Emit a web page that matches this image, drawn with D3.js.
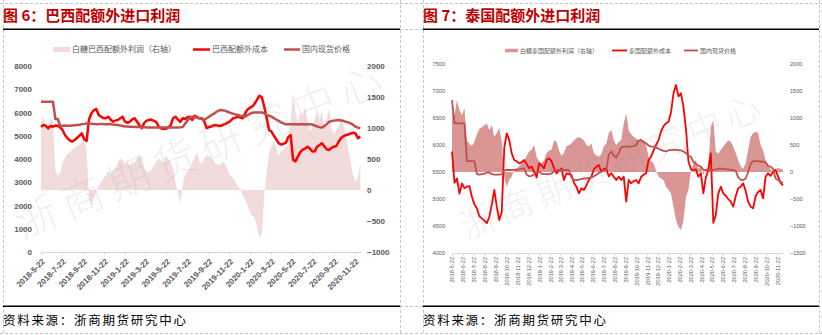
<!DOCTYPE html>
<html>
<head>
<meta charset="utf-8">
<script src="https://cdn.jsdelivr.net/npm/d3@7"></script>
<style>
  html, body { margin: 0; padding: 0; background: #fff; }
  svg { display: block; font-family: "Liberation Sans", Arial, sans-serif; }
</style>
</head>
<body>
<svg id="chart" width="822" height="335"></svg>
<script>
// ---- data: weekly observations starting 2018-05-22 ----
const startDate = new Date(2018, 4, 22);
const weekCount = 134;

// Figure 6: Brazil out-of-quota import (profit on right axis, prices on left axis)
const brazilProfit = [
  1100,1180,1000,1050,1150,1100,300,230,280,450,
  520,580,610,650,680,700,740,760,800,650,
  -150,-240,-130,-30,80,130,190,230,290,250,
  300,360,420,515,480,420,440,400,450,430,
  515,560,540,360,300,290,330,400,460,515,
  480,450,560,500,450,350,120,-50,-210,80,
  240,300,355,450,520,610,450,420,500,560,
  540,515,450,420,400,430,450,410,290,230,
  190,130,60,30,-80,-160,-240,-350,-420,-450,
  -610,-775,-700,-80,290,610,700,770,680,560,
  620,650,700,720,1100,1580,1250,1080,1240,1200,
  1340,1100,960,1000,1150,1240,1100,1290,1000,1150,
  1320,1000,900,960,1000,1180,1050,890,640,450,
  240,130,210,430
];
const brazilCost = [
  5390,5460,5430,5320,5420,5390,5440,5430,5350,5250,
  5030,4900,4800,4750,4820,4900,5000,5100,4850,4780,
  5700,5965,6100,6150,5900,5820,5760,5750,5820,5700,
  5605,5650,5680,5750,5820,5605,5560,5600,5700,5750,
  5600,5450,5330,5550,5650,5680,5700,5640,5600,5400,
  5320,5290,5300,5350,5450,5750,5820,5700,5600,5750,
  5720,5800,5820,5680,5860,5800,5750,5750,5620,5330,
  5380,5400,5450,5460,5420,5430,5480,5520,5575,5650,
  5750,5780,5820,5780,5750,5950,6130,6200,6260,6380,
  6550,6720,6650,6250,5750,5250,5180,5000,4850,4680,
  4620,4650,4700,4950,5030,3960,3900,4100,4300,4400,
  4450,4530,4450,4320,4330,4530,4600,4680,4550,4420,
  4390,4480,4530,4560,4750,4900,4980,5030,5050,5100,
  5130,5100,4900,4960
];
const spotPriceA = [
  6460,6460,6460,6460,6460,6460,5720,5720,5430,5430,
  5440,5430,5430,5440,5450,5460,5470,5500,5510,5530,
  5530,5520,5510,5500,5500,5510,5500,5490,5500,5500,
  5480,5470,5460,5440,5420,5400,5400,5390,5390,5380,
  5390,5380,5380,5370,5360,5360,5350,5350,5360,5350,
  5350,5350,5350,5350,5360,5350,5350,5350,5360,5380,
  5520,5650,5780,5820,5800,5770,5750,5720,5690,5750,
  5820,5890,5950,6020,6080,6107,6090,6065,6020,5980,
  5950,5920,5890,5860,5840,5820,5880,5940,5990,6000,
  6005,6005,6005,5960,5900,5860,5820,5760,5700,5640,
  5575,5530,5490,5490,5500,5490,5490,5480,5490,5490,
  5480,5490,5490,5480,5440,5400,5370,5350,5420,5500,
  5600,5630,5650,5670,5680,5660,5640,5600,5575,5530,
  5470,5390,5350,5320
];

// Figure 7: Thailand out-of-quota import
const thaiProfit = [
  1333,1050,1330,1150,1050,1180,590,520,480,560,
  700,800,830,870,900,780,870,650,720,815,
  560,-100,-272,-150,-85,40,70,100,160,190,
  300,380,410,500,280,200,160,220,350,400,
  410,590,560,400,300,350,470,500,530,590,
  620,650,620,590,500,470,530,350,300,280,
  330,470,530,720,780,590,500,560,590,900,
  1090,780,700,650,620,590,620,560,500,280,
  200,160,30,-90,-120,-150,-280,-330,-400,-650,
  -890,-1020,-1080,-900,-460,-340,0,160,220,60,
  100,-60,40,100,840,960,380,340,410,470,
  530,590,560,470,350,220,100,60,160,410,
  650,720,746,720,500,400,220,130,40,0,
  50,75,60,40
];
const thaiCost = [
  5880,5300,5380,5100,5290,5200,5230,5240,5043,4900,
  4830,4680,4640,4600,4550,4672,4900,5167,4857,4610,
  4765,5950,6216,6090,5845,5722,5700,5660,5680,5722,
  5650,5568,5600,5500,5400,5660,5620,5568,5722,5753,
  5700,5568,5476,5530,5568,5352,5476,5460,5445,5300,
  5228,5105,5198,5167,5250,5352,5413,5550,5598,5630,
  5506,5560,5560,5420,5476,5413,5352,5413,5352,5413,
  4950,5352,5290,5330,5352,5290,5413,5450,5476,5722,
  5784,5900,6000,6092,6250,6350,6401,6432,6600,6957,
  7111,6900,6957,6710,6300,5700,5550,5537,5550,5413,
  5476,5105,5400,5537,5845,4560,4700,5100,5228,5105,
  5060,5000,4950,4857,5050,5200,5228,5290,5150,4950,
  4857,4827,5050,5130,5167,5012,5413,5476,5430,5500,
  5537,5420,5300,5250
];
const spotPriceB = [
  6830,6400,6400,6400,6400,6400,5700,5700,5700,5700,
  5460,5450,5460,5470,5490,5490,5460,5450,5450,5450,
  5460,5530,5537,5537,5537,5540,5545,5550,5560,5570,
  5450,5420,5430,5460,5500,5507,5470,5460,5460,5460,
  5470,5520,5537,5537,5537,5540,5537,5530,5400,5350,
  5350,5360,5370,5380,5380,5390,5400,5420,5450,5480,
  5510,5530,5540,5820,5880,5800,5770,5850,5950,5970,
  5970,5970,5970,5980,6000,6080,6090,6060,6030,5990,
  5970,5970,5960,5930,5910,5890,5880,5900,5910,5910,
  5910,5905,5900,5880,5850,5800,5780,5690,5650,5620,
  5600,5540,5537,5537,5537,5537,5550,5560,5560,5560,
  5550,5550,5540,5537,5520,5400,5360,5350,5380,5500,
  5650,5700,5700,5700,5690,5690,5680,5610,5600,5560,
  5380,5350,5320,5300
];

// tick labels
const ticksA = ["2018-5-22","2018-7-22","2018-9-22","2018-11-22","2019-1-22","2019-3-22",
  "2019-5-22","2019-7-22","2019-9-22","2019-11-22","2020-1-22","2020-3-22",
  "2020-5-22","2020-7-22","2020-9-22","2020-11-22"];
const ticksB = ["2018-5-22","2018-6-22","2018-7-22","2018-8-22","2018-9-22","2018-10-22",
  "2018-11-22","2018-12-22","2019-1-22","2019-2-22","2019-3-22","2019-4-22","2019-5-22",
  "2019-6-22","2019-7-22","2019-8-22","2019-9-22","2019-10-22","2019-11-22","2019-12-22",
  "2020-1-22","2020-2-22","2020-3-22","2020-4-22","2020-5-22","2020-6-22","2020-7-22",
  "2020-8-22","2020-9-22","2020-10-22","2020-11-22"];
const leftTicksA = [0,1000,2000,3000,4000,5000,6000,7000,8000];
const rightTicksA = [-1000,-500,0,500,1000,1500,2000];
const leftTicksB = [4000,4500,5000,5500,6000,6500,7000,7500];
const rightTicksB = [-1500,-1000,-500,0,500,1000,1500,2000];

// ---- drawing ----
const dates = d3.range(weekCount).map(i => d3.timeDay.offset(startDate, 7 * i));
const parseDay = s => { const [y, m, d] = s.split("-").map(Number); return new Date(y, m - 1, d); };
const CJK = '"Noto Sans CJK SC", "Noto Sans", sans-serif';
const plainNum = d3.format("d");
const svg = d3.select("#chart");

// table frame (dashed cell borders)
const frame = svg.append("g").attr("stroke", "#c4c4c4").attr("stroke-width", 1)
  .attr("stroke-dasharray", "3,2").attr("fill", "none");
[[0, 3.5, 822, 3.5], [0, 333.5, 822, 333.5], [400, 29.5, 423, 29.5], [400, 306.5, 423, 306.5],
 [3.5, 0, 3.5, 335], [400.5, 0, 400.5, 335], [423.5, 0, 423.5, 335], [819.5, 0, 819.5, 335]]
  .forEach(([x1, y1, x2, y2]) => frame.append("line").attr("x1", x1).attr("y1", y1).attr("x2", x2).attr("y2", y2));

function drawPanel(cfg) {
  const g = svg.append("g");
  const x = d3.scaleTime().domain([startDate, cfg.endDate]).range([cfg.x0, cfg.x1]);
  const yL = d3.scaleLinear().domain(cfg.leftDomain).range([cfg.yBottom, cfg.yTop]);
  const yR = d3.scaleLinear().domain(cfg.rightDomain).range([cfg.yBottom, cfg.yTop]);

  // header rule, title, footer
  g.append("line").attr("x1", cfg.left).attr("x2", cfg.right).attr("y1", 29.3).attr("y2", 29.3)
    .attr("stroke", "#000").attr("stroke-width", 1.5);
  g.append("line").attr("x1", cfg.left).attr("x2", cfg.right).attr("y1", 306.3).attr("y2", 306.3)
    .attr("stroke", "#000").attr("stroke-width", 1.5);
  g.append("text").attr("x", cfg.left).attr("y", 21).attr("fill", "#C00000")
    .attr("font-family", CJK).attr("font-weight", "bold").attr("font-size", 15).text(cfg.title);
  g.append("text").attr("x", cfg.left).attr("y", 325).attr("fill", "#000")
    .attr("font-family", CJK).attr("font-size", 12.5).attr("letter-spacing", 1.7).text("资料来源：浙商期货研究中心");

  // profit area (right axis)
  g.append("path").datum(cfg.profit).attr("fill", cfg.areaColor)
    .attr("d", d3.area().x((d, i) => x(dates[i])).y0(yR(0)).y1(d => yR(d)));

  // x axis
  const xa = g.append("g").attr("transform", `translate(0,${cfg.yBottom})`)
    .call(d3.axisBottom(x).tickValues(cfg.ticks.map(parseDay)).tickSizeInner(3).tickSizeOuter(0)
      .tickFormat((d, i) => cfg.ticks[i]));
  xa.selectAll("path, line").attr("stroke", "#d9d9d9");
  xa.selectAll("text").attr("x", 0).attr("y", 0).attr("dy", "0.35em")
    .attr("transform", cfg.tickTransform).attr("text-anchor", "end")
    .attr("fill", "#595959").attr("font-family", '"Liberation Sans", Arial, sans-serif')
    .attr("font-size", cfg.xFont).attr("font-weight", cfg.axisWeight);

  // lines (left axis)
  const line = d3.line().x((d, i) => x(dates[i])).y(d => yL(d));
  g.append("path").datum(cfg.cost).attr("fill", "none").attr("stroke", "#FF0000")
    .attr("stroke-width", cfg.lineWidth).attr("stroke-linejoin", "round").attr("d", line);
  g.append("path").datum(cfg.spot).attr("fill", "none").attr("stroke", "#C0504D")
    .attr("stroke-width", cfg.lineWidth).attr("stroke-linejoin", "round").attr("d", line);

  // y axes
  const styleY = sel => {
    sel.select(".domain").remove();
    sel.selectAll("line").remove();
    sel.selectAll("text").attr("fill", "#595959").attr("font-size", cfg.yFont)
      .attr("font-weight", cfg.axisWeight).attr("font-family", '"Liberation Sans", Arial, sans-serif');
  };
  g.append("g").attr("transform", `translate(${cfg.yLeftX},0)`)
    .call(d3.axisLeft(yL).tickValues(cfg.leftTicks).tickFormat(plainNum).tickSize(0).tickPadding(0)).call(styleY);
  g.append("g").attr("transform", `translate(${cfg.yRightX},0)`)
    .call(d3.axisRight(yR).tickValues(cfg.rightTicks).tickFormat(plainNum).tickSize(0).tickPadding(0)).call(styleY);

  // legend
  const lg = g.append("g").attr("font-family", CJK).attr("font-size", cfg.legendFont).attr("fill", "#595959");
  const L = cfg.legend;
  lg.append("rect").attr("x", L.rect[0]).attr("y", L.y - L.rectH / 2).attr("width", L.rect[1] - L.rect[0])
    .attr("height", L.rectH).attr("fill", cfg.areaColor);
  lg.append("text").attr("x", L.rect[1] + 2).attr("y", L.y).attr("dy", "0.35em").text(cfg.names[0]);
  lg.append("line").attr("x1", L.red[0]).attr("x2", L.red[1]).attr("y1", L.y).attr("y2", L.y)
    .attr("stroke", "#FF0000").attr("stroke-width", cfg.lineWidth);
  lg.append("text").attr("x", L.red[1] + 2).attr("y", L.y).attr("dy", "0.35em").text(cfg.names[1]);
  lg.append("line").attr("x1", L.brown[0]).attr("x2", L.brown[1]).attr("y1", L.y).attr("y2", L.y)
    .attr("stroke", "#C0504D").attr("stroke-width", cfg.lineWidth);
  lg.append("text").attr("x", L.brown[1] + 2).attr("y", L.y).attr("dy", "0.35em").text(cfg.names[2]);

  // watermark
  g.append("text").attr("transform", `translate(${cfg.mark[0]},${cfg.mark[1]}) rotate(${cfg.mark[2]})`)
    .attr("text-anchor", "middle").attr("dy", "0.35em").attr("font-family", CJK)
    .attr("font-weight", 300).attr("font-size", cfg.mark[3]).attr("letter-spacing", cfg.mark[4])
    .attr("fill", "rgba(128,128,128,0.13)").text("浙商期货研究中心");
}

drawPanel({
  left: 3, right: 400,
  title: "图 6：巴西配额外进口利润",
  x0: 41, x1: 361, endDate: new Date(2020, 11, 10),
  yTop: 66, yBottom: 252,
  leftDomain: [0, 8000], rightDomain: [-1000, 2000],
  leftTicks: leftTicksA, rightTicks: rightTicksA,
  yLeftX: 32, yRightX: 367,
  profit: brazilProfit, cost: brazilCost, spot: spotPriceA,
  areaColor: "#F2DCDB", lineWidth: 2.5,
  ticks: ticksA, tickTransform: "translate(2,8) rotate(-45)",
  xFont: 8, yFont: 8, axisWeight: "bold",
  legendFont: 8,
  legend: { y: 49.5, rectH: 5, rect: [53, 70], red: [193, 210], brown: [284, 300] },
  names: ["白糖巴西配额外利润（右轴）", "巴西配额外成本", "国内现货价格"],
  mark: [202, 150, -22, 42, 8]
});

drawPanel({
  left: 423, right: 819,
  title: "图 7：泰国配额外进口利润",
  x0: 452, x1: 783, endDate: new Date(2020, 11, 8),
  yTop: 64, yBottom: 253,
  leftDomain: [4000, 7500], rightDomain: [-1500, 2000],
  leftTicks: leftTicksB, rightTicks: rightTicksB,
  yLeftX: 445, yRightX: 790,
  profit: thaiProfit, cost: thaiCost, spot: spotPriceB,
  areaColor: "#D99694", lineWidth: 1.8,
  ticks: ticksB, tickTransform: "translate(0,4) rotate(-90)",
  xFont: 5.6, yFont: 5.6, axisWeight: "normal",
  legendFont: 6,
  legend: { y: 50.5, rectH: 3.5, rect: [505, 518], red: [612, 627], brown: [684, 698] },
  names: ["白糖泰国配额外利润（右轴）", "泰国配额外成本", "国内现货价格"],
  mark: [613, 166, -22.5, 35, 6]
});
</script>
</body>
</html>
